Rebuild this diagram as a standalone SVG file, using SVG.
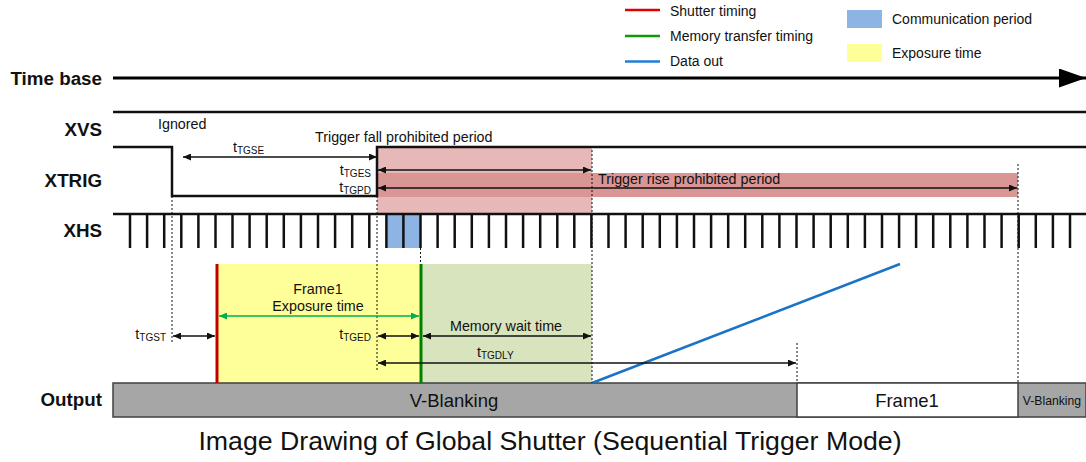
<svg xmlns="http://www.w3.org/2000/svg" width="1086" height="462" viewBox="0 0 1086 462">
<defs>
<style>
text{font-family:"Liberation Sans",Arial,sans-serif;fill:#111}
.lbl{font-size:18.8px;font-weight:bold;text-anchor:end}
.sm{font-size:14.3px}
.sub{font-size:10px}
.sig{fill:none;stroke:#111;stroke-width:2.5}
.dot{stroke:#111;stroke-width:1;stroke-dasharray:2,2;fill:none}
.arr{stroke:#111;stroke-width:1.3;fill:none;marker-end:url(#ah);marker-start:url(#ah)}
</style>
<marker id="ah" viewBox="0 0 8 7" refX="8" refY="3.5" markerWidth="8" markerHeight="7" markerUnits="userSpaceOnUse" orient="auto-start-reverse"><path d="M0,0 L8,3.5 L0,7 z" fill="#111"/></marker>
<marker id="ahg" viewBox="0 0 8 7" refX="8" refY="3.5" markerWidth="8" markerHeight="7" markerUnits="userSpaceOnUse" orient="auto-start-reverse"><path d="M0,0 L8,3.5 L0,7 z" fill="#00b050"/></marker>
<marker id="big" viewBox="0 0 27 19" refX="27" refY="9.5" markerWidth="27" markerHeight="19" markerUnits="userSpaceOnUse" orient="auto"><path d="M0,0 L27,9.5 L0,19 z" fill="#000"/></marker>
</defs>
<rect width="1086" height="462" fill="#fff"/>

<g id="legend">
<line x1="625" y1="10" x2="660" y2="10" stroke="#e00000" stroke-width="2.5"/>
<text x="670" y="16" font-size="14">Shutter timing</text>
<line x1="625" y1="36" x2="660" y2="36" stroke="#0a9a0a" stroke-width="2.5"/>
<text x="670" y="41" font-size="14">Memory transfer timing</text>
<line x1="625" y1="61.5" x2="660" y2="61.5" stroke="#1f7fd4" stroke-width="2.5"/>
<text x="670" y="66" font-size="14">Data out</text>
<rect x="847" y="10" width="35" height="18" fill="#8eb4e3"/>
<text x="892" y="24" font-size="14">Communication period</text>
<rect x="847" y="44" width="35" height="18" fill="#ffff99"/>
<text x="892" y="58" font-size="14">Exposure time</text>
</g>

<g id="labels">
<text class="lbl" x="102" y="85">Time base</text>
<text class="lbl" x="102" y="136">XVS</text>
<text class="lbl" x="102" y="187">XTRIG</text>
<text class="lbl" x="102" y="237">XHS</text>
<text class="lbl" x="102" y="406">Output</text>
</g>

<g id="prohibited-periods">
<rect x="377" y="147" width="215" height="67" fill="#e6b8b7"/>
<rect x="377" y="173" width="641" height="24" fill="#da9694"/>
<text class="sm" x="315" y="142">Trigger fall prohibited period</text>
<text class="sm" x="598" y="184">Trigger rise prohibited period</text>
</g>

<g id="exposure-area">
<rect x="217" y="264" width="204" height="119" fill="#ffff99"/>
<rect x="421" y="264" width="171" height="119" fill="#d7e4bd"/>
<text class="sm" x="318" y="294" text-anchor="middle">Frame1</text>
<text class="sm" x="318" y="311" text-anchor="middle">Exposure time</text>
<text class="sm" x="506" y="331" text-anchor="middle">Memory wait time</text>
</g>

<g id="communication">
<rect x="386.4" y="214" width="34" height="34" fill="#8eb4e3"/>
</g>

<g id="output">
<rect x="113" y="383" width="973" height="34" fill="#a6a6a6" stroke="#404040" stroke-width="1.5"/>
<rect x="797" y="383" width="221" height="34" fill="#fff" stroke="#404040" stroke-width="1.5"/>
<text x="454" y="407" font-size="18.5" text-anchor="middle">V-Blanking</text>
<text x="907" y="407" font-size="18.5" text-anchor="middle">Frame1</text>
<text x="1052" y="405" font-size="12.2" text-anchor="middle">V-Blanking</text>
</g>

<g id="signals">
<line x1="113" y1="78" x2="1086" y2="78" stroke="#000" stroke-width="3" marker-end="url(#big)"/>
<line x1="113" y1="112" x2="1086" y2="112" class="sig" stroke-width="2"/>
<polyline class="sig" points="113,147 172,147 172,196 377,196 377,147 1086,147"/>
<line x1="113" y1="214" x2="1086" y2="214" class="sig"/>
<path class="sig" stroke-width="2" d="M130,214V248M147.1,214V248M164.2,214V248M181.3,214V248M198.4,214V248M215.5,214V248M232.5,214V248M249.6,214V248M266.7,214V248M283.8,214V248M300.9,214V248M318,214V248M335.1,214V248M352.2,214V248M369.3,214V248M386.4,214V248M403.4,214V248M420.5,214V248M437.6,214V248M454.7,214V248M471.8,214V248M488.9,214V248M506,214V248M523.1,214V248M540.2,214V248M557.3,214V248M574.3,214V248M591.4,214V248M608.5,214V248M625.6,214V248M642.7,214V248M659.8,214V248M676.9,214V248M694,214V248M711.1,214V248M728.2,214V248M745.2,214V248M762.3,214V248M779.4,214V248M796.5,214V248M813.6,214V248M830.7,214V248M847.8,214V248M864.9,214V248M882,214V248M899.1,214V248M916.1,214V248M933.2,214V248M950.3,214V248M967.4,214V248M984.5,214V248M1001.6,214V248M1018.7,214V248M1035.8,214V248M1052.9,214V248M1070,214V248"/>
<line x1="217" y1="264" x2="217" y2="383" stroke="#c00000" stroke-width="3"/>
<line x1="421" y1="264" x2="421" y2="383" stroke="#008000" stroke-width="3"/>
<line x1="592" y1="383" x2="900" y2="264" stroke="#1a73c6" stroke-width="2.5"/>
</g>

<g id="connectors">
<line class="dot" x1="172" y1="196" x2="172" y2="343"/>
<line class="dot" x1="377" y1="196" x2="377" y2="370"/>
<line class="dot" x1="420.5" y1="248" x2="420.5" y2="264"/>
<line class="dot" x1="592" y1="150" x2="592" y2="383"/>
<line class="dot" x1="797" y1="343" x2="797" y2="383"/>
<line class="dot" x1="1018" y1="164" x2="1018" y2="383"/>

<line class="arr" x1="183" y1="157" x2="377" y2="157"/>
<line class="arr" x1="378" y1="170" x2="591" y2="170"/>
<line class="arr" x1="378" y1="188" x2="1017" y2="188"/>
<line x1="219" y1="316" x2="419" y2="316" stroke="#00b050" stroke-width="1.3" marker-start="url(#ahg)" marker-end="url(#ahg)"/>
<line class="arr" x1="173" y1="336" x2="215" y2="336"/>
<line class="arr" x1="378" y1="336" x2="419" y2="336"/>
<line class="arr" x1="423" y1="336" x2="591" y2="336"/>
<line class="arr" x1="378" y1="363" x2="796" y2="363"/>

<text class="sm" x="158" y="129">Ignored</text>
<text class="sm" x="233" y="152">t<tspan class="sub" dy="2">TGSE</tspan></text>
<text class="sm" x="371" y="175" text-anchor="end">t<tspan class="sub" dy="2">TGES</tspan></text>
<text class="sm" x="371" y="192" text-anchor="end">t<tspan class="sub" dy="2">TGPD</tspan></text>
<text class="sm" x="166" y="339" text-anchor="end">t<tspan class="sub" dy="2">TGST</tspan></text>
<text class="sm" x="371" y="339" text-anchor="end">t<tspan class="sub" dy="2">TGED</tspan></text>
<text class="sm" x="477" y="357">t<tspan class="sub" dy="2">TGDLY</tspan></text>
</g>

<text x="550" y="450" font-size="26.7" text-anchor="middle" fill="#222">Image Drawing of Global Shutter (Sequential Trigger Mode)</text>
</svg>
